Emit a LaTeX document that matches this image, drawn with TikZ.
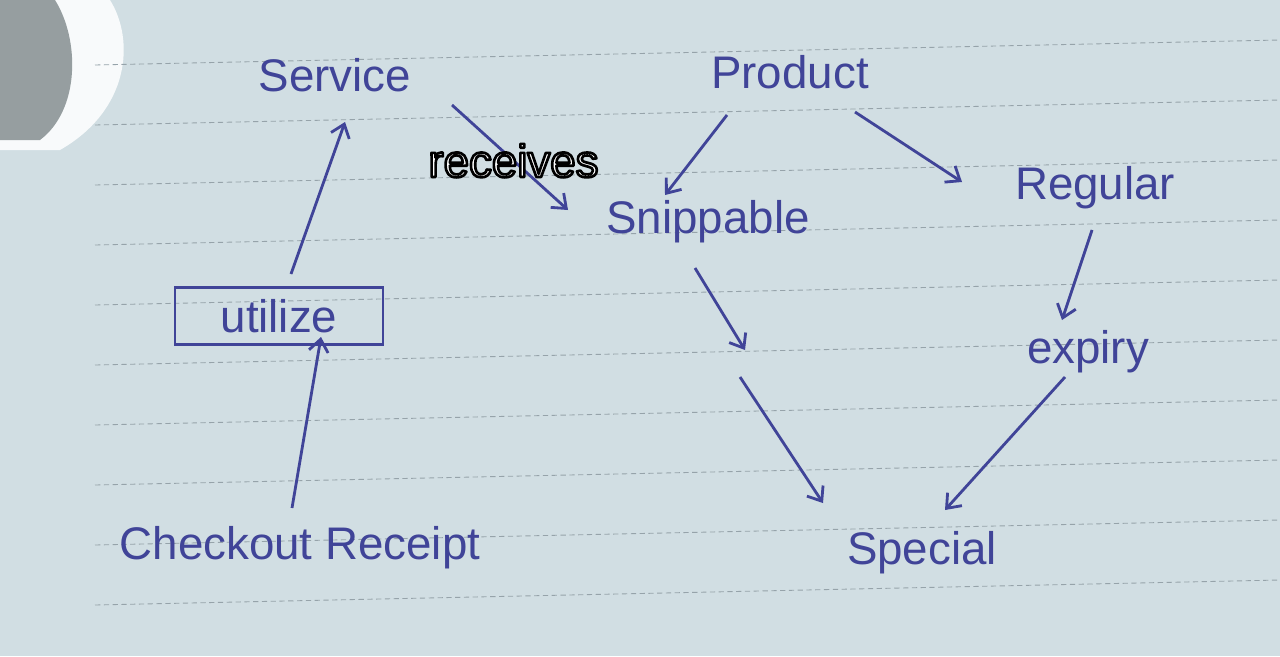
\documentclass[tikz,border=0pt]{standalone}
\usepackage{fontspec}
\setsansfont{Liberation Sans}
\usetikzlibrary{arrows.meta,positioning,calc}
\definecolor{ink}{RGB}{64,68,152}
\definecolor{paper}{RGB}{209,222,227}
\definecolor{rulecol}{RGB}{150,163,170}
\definecolor{blob}{RGB}{150,158,160}
\newcommand{\outlined}[1]{\special{pdf:code q 2 Tr 1.5 w 1 j 0 0 0 RG}#1\special{pdf:code Q}}
\tikzset{
	conc/.style={text=ink, font=\sffamily\fontsize{26}{30}\selectfont, inner sep=4pt},
	relbox/.style={conc, draw=ink, line width=1.6pt, minimum width=4.16cm, minimum height=1.14cm},
	diredge/.style={-{Straight Barb[width=11pt,length=7pt]}, color=ink, line width=1.6pt},
	rellabel/.style={font=\sffamily\fontsize{26}{30}\selectfont, text=white},
	paperline/.style={rulecol, densely dashed, line width=0.5pt}
}

\begin{document}
\begin{tikzpicture}[x=0.02cm, y=-0.02cm]
\fill[paper] (0,0) rectangle (1280,656);
\useasboundingbox (0,0) rectangle (1280,656);

% paper
\fill[white!85!paper] (0,0) -- (110,0) .. controls (135,40) and (130,110) .. (60,150) -- (0,150) -- cycle;
\fill[blob] (0,0) -- (55,0) .. controls (80,40) and (80,110) .. (40,140) -- (0,140) -- cycle;
\foreach \yy in {65,125,...,605}
    \draw[paperline] (95,\yy) -- (1280,\yy-25);

    \node[conc] (Serv) at (335,75) {Service};
    \node[conc] (Prod) at (790,72) {Product};
    \node[conc] (Snip) at (708,222) {Snippable};
    \node[conc] (Reg) at (1095,188) {Regular};
    \node[relbox] (Util) at (279,316) {utilize};
    \node[conc] (Check) at (300,548) {Checkout Receipt};
    \node[conc] (Exp) at (1088,352) {expiry};
    \node[conc] (Spec) at (922,553) {Special};

    \coordinate (SnipEnd) at (745,350);
    \coordinate (SpecStart) at (740,377);

    \draw[diredge] ([shift={(-8,-40)}]Check.center) -- ([shift={(42,21)}]Util.center);
    \draw[diredge] ([shift={(12,-42)}]Util.center) -- ([shift={(10,47)}]Serv.center);
    \draw[diredge] ([shift={(117,30)}]Serv.center) --node[rellabel, pos=0.53] {\outlined{receives}} ([shift={(-140,-12)}]Snip.center);
    \draw[diredge] ([shift={(-63,43)}]Prod.center) -- ([shift={(-43,-27)}]Snip.center);
    \draw[diredge] ([shift={(65,40)}]Prod.center) -- ([shift={(-133,-6)}]Reg.center);
    \draw[diredge] ([shift={(-3,42)}]Reg.center) -- ([shift={(-26,-32)}]Exp.center);
    \draw[diredge] ([shift={(-23,25)}]Exp.center) -- ([shift={(23,-43)}]Spec.center);
    \draw[diredge] ([shift={(-13,46)}]Snip.center) -- (SnipEnd);
    \draw[diredge] (SpecStart) -- ([shift={(-99,-50)}]Spec.center);
\end{tikzpicture}
\end{document}
